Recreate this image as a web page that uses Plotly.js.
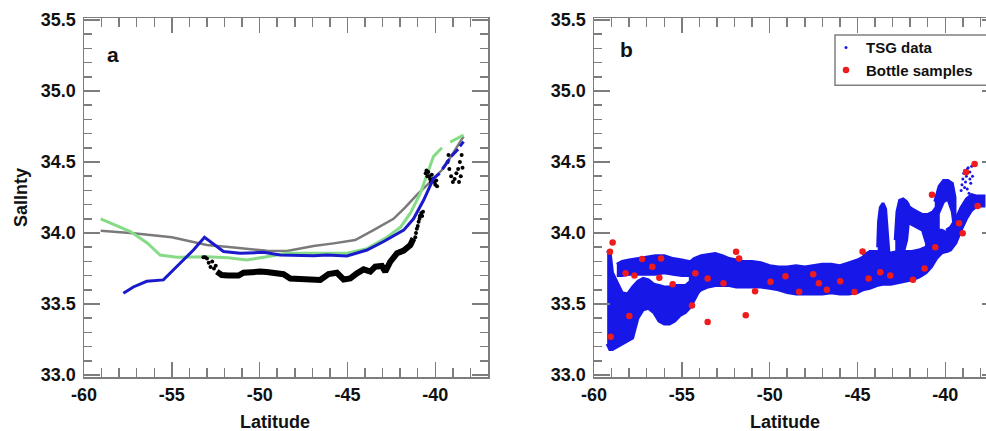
<!DOCTYPE html>
<html>
<head>
<meta charset="utf-8">
<script src="https://cdn.plot.ly/plotly-3.0.1.min.js"></script>
<style>
html,body{margin:0;padding:0;overflow:hidden;background:#fff;}
#chart{width:1000px;height:431px;}
</style>
</head>
<body>
<div id="chart"></div>
<script>
// ---------- Panel a ----------
const grayLat = [-59.05,-57.19,-55.0,-53.01,-51.6,-49.59,-48.45,-46.93,-45.79,-44.56,-43.52,-42.38,-41.71,-41.04,-40.28,-39.53,-38.39];
const graySal = [34.016,33.998,33.97,33.915,33.90,33.875,33.873,33.908,33.927,33.95,34.02,34.10,34.18,34.27,34.36,34.456,34.68];

const greenLat = [-59.05,-57.36,-56.4,-55.67,-54.72,-53.0,-51.8,-50.73,-49.59,-48.45,-46.93,-45.03,-43.89,-42.75,-41.99,-41.42,-40.85,-40.47,-40.1,-39.62,null,-39.15,-38.39];
const greenSal = [34.10,34.01,33.93,33.845,33.83,33.833,33.825,33.81,33.833,33.857,33.857,33.857,33.89,33.97,34.04,34.14,34.28,34.42,34.54,34.60,null,34.64,34.69];

const blueLat = [-57.76,-57.19,-56.43,-55.48,-54.53,-53.77,-53.14,-52.63,-52.06,-51.11,-49.78,-48.83,-46.93,-46.17,-45.03,-43.89,-42.94,-41.8,-41.24,-40.67,-40.1,-39.75,null,-39.6,-39.2,null,-39.1,-38.7,null,-38.6,-38.39];
const blueSal = [33.575,33.62,33.66,33.67,33.787,33.88,33.97,33.923,33.87,33.857,33.864,33.845,33.84,33.845,33.838,33.88,33.94,34.02,34.10,34.23,34.385,34.42,null,34.45,34.52,null,34.54,34.59,null,34.61,34.643];

const blackLat = [-52.44,-52.16,-51.8,-51.49,-51.2,-50.92,-50.5,-49.97,-49.6,-49.21,-48.64,-48.26,-47.8,-47.31,-46.9,-46.55,-46.08,-45.6,-45.22,-44.84,-44.46,-44.08,-43.7,-43.42,-43.04,-42.85,-42.56,-42.18,-41.8,-41.42,-41.24];
const blackSal = [33.728,33.704,33.70,33.695,33.70,33.72,33.725,33.728,33.725,33.72,33.71,33.68,33.676,33.676,33.672,33.669,33.711,33.72,33.673,33.68,33.716,33.744,33.728,33.763,33.768,33.728,33.798,33.857,33.876,33.915,33.962];

const blackDotLat = [-53.2,-53.1,-53.0,-52.9,-52.8,-52.7,-52.6,-52.5,-41.14,-41.1,-41.05,-41.0,-40.95,-40.9,-40.88,-40.8,-40.7,-40.75,-40.55,-40.5,-40.45,-40.4,-40.35,-40.3,-40.25,-40.2,-40.15,-40.05,-40.0,-39.95,-39.9,-39.3,-39.25,-39.2,-39.1,-39.0,-38.9,-38.8,-38.7,-38.65,-38.6,-38.55,-38.5,-38.45];
const blackDotSal = [33.83,33.83,33.82,33.79,33.76,33.80,33.75,33.77,33.97,34.0,34.03,34.05,34.08,34.1,34.12,34.14,34.15,34.12,34.42,34.44,34.40,34.43,34.40,34.38,34.36,34.41,34.38,34.36,34.34,34.37,34.33,34.50,34.55,34.45,34.40,34.36,34.38,34.42,34.45,34.36,34.50,34.40,34.55,34.46];

// ---------- Panel b ----------
const bottleLat = [-59.09,-58.94,-59.05,-58.2,-57.99,-57.7,-57.26,-56.68,-56.28,-56.18,-55.52,-54.42,-54.23,-53.53,-53.53,-52.63,-51.91,-51.74,-51.36,-50.83,-49.95,-49.1,-48.32,-47.52,-47.2,-46.74,-45.98,-45.17,-44.71,-44.37,-43.7,-43.13,-41.84,-41.18,-40.57,-40.76,-39.22,-39.01,-38.82,-38.33,-38.16];
const bottleSal = [33.868,33.934,33.27,33.716,33.415,33.70,33.817,33.763,33.685,33.82,33.64,33.49,33.716,33.68,33.373,33.646,33.868,33.82,33.42,33.59,33.657,33.695,33.587,33.71,33.646,33.60,33.66,33.585,33.87,33.68,33.723,33.70,33.67,33.75,33.90,34.27,34.068,33.998,34.427,34.486,34.19];

// TSG point cloud, read as envelopes (top / bottom salinity) of each dense patch
const westLat = [-59.25,-59.1,-58.95,-58.7,-58.4,-58.1,-57.8,-57.5,-57.2,-56.9,-56.6,-56.3,-56.0,-55.7,-55.4,-55.1,-54.8,-54.5,-54.2,-53.9];
const westTop = [33.86,33.88,33.72,33.66,33.58,33.57,33.62,33.66,33.68,33.67,33.64,33.63,33.62,33.62,33.63,33.63,33.63,33.66,33.72,33.78];
const westBot = [33.22,33.18,33.18,33.2,33.22,33.24,33.26,33.4,33.46,33.47,33.44,33.38,33.36,33.36,33.38,33.42,33.44,33.48,33.55,33.62];
const upWLat = [-58.7,-58.4,-58.0,-57.5,-57.0,-56.5,-56.0,-55.5,-55.0,-54.6];
const upWTop = [33.78,33.80,33.81,33.82,33.83,33.84,33.84,33.82,33.81,33.80];
const upWBot = [33.70,33.70,33.71,33.71,33.71,33.71,33.72,33.71,33.70,33.70];
const midLat = [-54.6,-54.3,-53.9,-53.5,-53.1,-52.7,-52.3,-51.9,-51.5,-51.0,-50.5,-50.0,-49.5,-49.0,-48.5,-48.0,-47.5,-47.0,-46.5,-46.0,-45.5,-45.0,-44.7];
const midTop = [33.79,33.82,33.84,33.85,33.855,33.84,33.82,33.81,33.80,33.80,33.79,33.77,33.76,33.76,33.77,33.76,33.77,33.78,33.78,33.77,33.79,33.81,33.83];
const midBot = [33.5,33.56,33.6,33.62,33.63,33.63,33.63,33.62,33.62,33.62,33.62,33.61,33.60,33.58,33.57,33.57,33.57,33.57,33.58,33.57,33.57,33.58,33.6];
const eastLat = [-44.7,-44.3,-43.9,-43.5,-43.1,-42.7,-42.3,-41.9,-41.5,-41.1,-40.8,-40.5,-40.2,-39.9];
const eastTop = [33.84,33.87,33.87,33.86,33.86,33.87,33.87,33.87,33.88,33.9,34.0,34.02,34.02,34.0];
const eastBot = [33.6,33.61,33.63,33.64,33.64,33.65,33.66,33.67,33.69,33.72,33.76,33.82,33.86,33.87];
const spike1Lat = [-43.85,-43.8,-43.7,-43.55,-43.4,-43.3,-43.2];
const spike1Top = [33.9,34.08,34.18,34.21,34.17,34.02,33.9];
const spike1Bot = [33.84,33.84,33.84,33.84,33.84,33.84,33.84];
const spike2Lat = [-42.85,-42.75,-42.6,-42.4,-42.2,-42.1];
const spike2Top = [33.95,34.15,34.23,34.24,34.22,34.2];
const spike2Bot = [33.86,33.86,33.86,33.86,33.95,34.08];
const arcLat = [-42.2,-41.9,-41.6,-41.3,-41.0,-40.7,-40.4];
const arcTop = [34.2,34.17,34.15,34.13,34.13,34.15,34.2];
const arcBot = [34.08,34.06,34.04,34.02,33.9,33.86,33.9];
const highLat = [-40.6,-40.35,-40.1,-39.85,-39.6,-39.45];
const highTop = [34.22,34.33,34.37,34.37,34.35,34.25];
const highBot = [34.1,34.15,34.22,34.24,34.15,34.0];
const riseLat = [-39.95,-39.7,-39.4,-39.1,-38.8,-38.5,-38.2,-37.8];
const riseTop = [34.02,34.04,34.1,34.18,34.24,34.27,34.26,34.26];
const riseBot = [33.87,33.88,33.93,34.02,34.1,34.16,34.19,34.19];
const tsgSparseLat = [-39.1,-39.05,-39.0,-38.95,-38.9,-38.85,-38.8,-38.75,-38.7,-38.65,-38.6,-38.55,-38.5,-38.45,-38.9,-38.75,-38.6];
const tsgSparseSal = [34.30,34.34,34.38,34.42,34.44,34.36,34.40,34.31,34.46,34.28,34.43,34.35,34.47,34.40,34.32,34.45,34.38];

// axis ticks
const xTickVals = [-60,-55,-50,-45,-40];
const xTickText = ['-60','-55','-50','-45','-40'];
const yTick0 = 33.0, yTickStep = 0.5;
const xMinorStep = 1, yMinorStep = 0.1;

const BLUE_TSG = '#1717e8';
const tsgPatches = [
  [westLat, westTop, westBot], [upWLat, upWTop, upWBot], [midLat, midTop, midBot],
  [eastLat, eastTop, eastBot], [spike1Lat, spike1Top, spike1Bot], [spike2Lat, spike2Top, spike2Bot],
  [arcLat, arcTop, arcBot], [highLat, highTop, highBot], [riseLat, riseTop, riseBot]
];

const traces = [];
traces.push({x: grayLat, y: graySal, xaxis:'x', yaxis:'y', mode:'lines', line:{color:'#7a7a7a', width:2.5}, showlegend:false, hoverinfo:'skip'});
traces.push({x: greenLat, y: greenSal, xaxis:'x', yaxis:'y', mode:'lines', line:{color:'#86dc86', width:3}, showlegend:false, connectgaps:false, hoverinfo:'skip'});
traces.push({x: blackLat, y: blackSal, xaxis:'x', yaxis:'y', mode:'lines', line:{color:'#000', width:6}, showlegend:false, hoverinfo:'skip'});
traces.push({x: blackDotLat, y: blackDotSal, xaxis:'x', yaxis:'y', mode:'markers', marker:{color:'#000', size:4}, showlegend:false, hoverinfo:'skip'});
traces.push({x: blueLat, y: blueSal, xaxis:'x', yaxis:'y', mode:'lines', line:{color:'#1a1acc', width:3}, showlegend:false, connectgaps:false, hoverinfo:'skip'});

tsgPatches.forEach(p => {
  const xs = p[0].concat(p[0].slice().reverse());
  const ys = p[1].concat(p[2].slice().reverse());
  traces.push({x: xs, y: ys, xaxis:'x2', yaxis:'y2', mode:'lines', fill:'toself', fillcolor:BLUE_TSG,
    line:{color:BLUE_TSG, width:3}, showlegend:false, hoverinfo:'skip'});
});
traces.push({x: tsgSparseLat, y: tsgSparseSal, xaxis:'x2', yaxis:'y2', mode:'markers', name:'TSG data', marker:{color:BLUE_TSG, size:3}, showlegend:true});
traces.push({x: bottleLat, y: bottleSal, xaxis:'x2', yaxis:'y2', mode:'markers', name:'Bottle samples', marker:{color:'#ee1c1c', size:6.5}, showlegend:true});

// empty traces for the coincident minor-tick subplots
traces.push({x: [], y: [], xaxis:'x3', yaxis:'y3', showlegend:false, hoverinfo:'skip'});
traces.push({x: [], y: [], xaxis:'x4', yaxis:'y4', showlegend:false, hoverinfo:'skip'});

const FONT = 'Liberation Sans, Arial, sans-serif';
const tickFont = {family: FONT, size: 18, color: '#111', weight: 'bold'};
const titleFont = {family: FONT, size: 18, color: '#111', weight: 'bold'};
const AX = '#7d7d7d';
const XR = [-60, -37], YR = [32.986, 35.514];
const DOM_A = [0.084, 0.488], DOM_B = [0.594, 0.998];

function xAxis(domain, anchor){
  return {
    domain: domain, anchor: anchor, range: XR, automargin: false,
    tickmode: 'array', tickvals: xTickVals, ticktext: xTickText,
    ticks: 'inside', ticklen: 15, tickwidth: 1.5, tickcolor: AX,
    showline: true, linecolor: AX, linewidth: 1.5, mirror: 'allticks',
    showgrid: false, zeroline: false, tickfont: tickFont, ticklabelstandoff: 1
  };
}
function yAxis(anchor, withTitle){
  return {
    domain: [0, 1], anchor: anchor, range: YR, automargin: false,
    tickmode: 'linear', tick0: yTick0, dtick: yTickStep, tickformat: '.1f',
    ticks: 'inside', ticklen: 16, tickwidth: 1.5, tickcolor: AX,
    showline: true, linecolor: AX, linewidth: 1.5, mirror: 'allticks',
    showgrid: false, zeroline: false, tickfont: tickFont, ticklabelstandoff: 3,
    title: withTitle ? {text: 'Sallnty', font: titleFont, standoff: 8} : {text: ''}
  };
}
function minorX(domain, anchor){
  return {domain: domain, anchor: anchor, range: XR, automargin: false, tickmode: 'linear', tick0: -60, dtick: xMinorStep,
    ticks: 'inside', ticklen: 9, tickwidth: 1.5, tickcolor: AX, showticklabels: false,
    showline: true, linecolor: AX, linewidth: 1.5, mirror: 'allticks', showgrid: false, zeroline: false};
}
function minorY(anchor){
  return {domain: [0, 1], anchor: anchor, range: YR, automargin: false, tickmode: 'linear', tick0: 33, dtick: yMinorStep,
    ticks: 'inside', ticklen: 8, tickwidth: 1.5, tickcolor: AX, showticklabels: false,
    showline: true, linecolor: AX, linewidth: 1.5, mirror: 'allticks', showgrid: false, zeroline: false};
}

const layout = {
  width: 1000, height: 431,
  margin: {l: 0, r: 0, t: 18, b: 54, pad: 0},
  paper_bgcolor: '#fff', plot_bgcolor: 'rgba(0,0,0,0)',
  font: {family: FONT},
  xaxis: xAxis(DOM_A, 'y'),
  yaxis: yAxis('x', true),
  xaxis2: xAxis(DOM_B, 'y2'),
  yaxis2: yAxis('x2', false),
  xaxis3: minorX(DOM_A, 'y3'),
  yaxis3: minorY('x3'),
  xaxis4: minorX(DOM_B, 'y4'),
  yaxis4: minorY('x4'),
  showlegend: true,
  legend: {x: 0.826, y: 0.963, xanchor: 'left', yanchor: 'top', bgcolor: 'rgba(0,0,0,0)', borderwidth: 0,
    font: {family: FONT, size: 15, color: '#111', weight: 'bold'}, itemwidth: 30, tracegroupgap: 0},
  shapes: [
    {type: 'rect', xref: 'paper', yref: 'paper', x0: 0.835, x1: 1.0, y0: 0.813, y1: 0.9526,
     line: {color: '#808080', width: 1.5}, fillcolor: 'rgba(0,0,0,0)', layer: 'above'}
  ],
  annotations: [
    {text: 'a', xref: 'paper', yref: 'paper', x: 0.113, y: 0.897, xanchor: 'center', yanchor: 'middle', showarrow: false, font: {family: FONT, size: 21, color: '#111', weight: 'bold'}},
    {text: 'b', xref: 'paper', yref: 'paper', x: 0.626, y: 0.911, xanchor: 'center', yanchor: 'middle', showarrow: false, font: {family: FONT, size: 21, color: '#111', weight: 'bold'}},
    {text: 'Latitude', xref: 'paper', yref: 'paper', x: 0.275, y: -0.125, xanchor: 'center', yanchor: 'middle', showarrow: false, font: titleFont},
    {text: 'Latitude', xref: 'paper', yref: 'paper', x: 0.785, y: -0.125, xanchor: 'center', yanchor: 'middle', showarrow: false, font: titleFont}
  ]
};

Plotly.newPlot('chart', traces, layout, {displayModeBar: false, staticPlot: true});
</script>
</body>
</html>
